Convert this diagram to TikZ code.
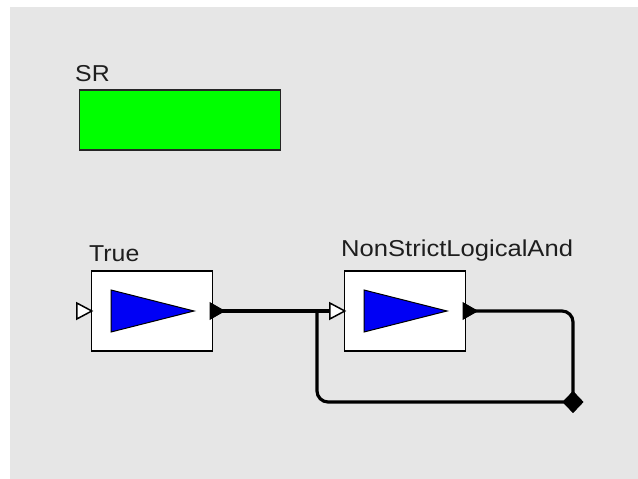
\documentclass[tikz,border=0pt]{standalone}
\usepackage{fontspec}
\setmainfont{Liberation Sans}[FakeStretch=1.08]
\usetikzlibrary{shapes.geometric,calc}
\definecolor{canvas}{RGB}{230,230,230}
\definecolor{labeltext}{RGB}{30,30,30}
\tikzset{
  block/.style={draw=black, line width=1.4pt, fill=white, minimum width=121pt, minimum height=80pt, inner sep=0pt},
  srblock/.style={draw=black!85, line width=1.5pt, fill={rgb,255:red,0;green,255;blue,0}, minimum width=201pt, minimum height=60pt, inner sep=0pt},
  caption/.style={anchor=base west, inner sep=0pt, text=labeltext, font=\fontsize{23}{27}\selectfont},
  gain/.style={draw=black, line width=1pt, fill={rgb,255:red,0;green,0;blue,245}},
  inport/.style={draw=black, line width=1.5pt, fill=white, line join=miter},
  outport/.style={draw=black, line width=1.2pt, fill=black},
  wire/.style={draw=black, line width=3.2pt, rounded corners=11pt},
  junction/.style={diamond, fill=black, inner sep=0pt, minimum width=21pt, minimum height=22pt}
}
\begin{document}
\begin{tikzpicture}[x=1pt, y=-1pt]
  \useasboundingbox (0,0) rectangle (638,479);
  \fill[white] (0,0) rectangle (638,479);
  \fill[canvas] (10,7) rectangle (638,479);

  % SR block
  \node[caption] (srlabel) at (75,81) {SR};
  \node[srblock] (sr) at (180,120) {};

  % True block
  \node[caption] (truelabel) at (89,261) {True};
  \node[block] (tb) at (152,311) {};
  \draw[gain] ([shift={(-41,-21)}]tb.center) -- ([shift={(42,0)}]tb.center) -- ([shift={(-41,21)}]tb.center) -- cycle;

  % NonStrictLogicalAnd block
  \node[caption] (andlabel) at (341,256) {\scalebox{1.03}[1]{NonStrictLogicalAnd}};
  \node[block] (ab) at (405,311) {};
  \draw[gain] ([shift={(-41,-21)}]ab.center) -- ([shift={(42,0)}]ab.center) -- ([shift={(-41,21)}]ab.center) -- cycle;

  % port positions
  \coordinate (tin)  at ([shift={(-14,0)}]tb.west);
  \coordinate (tout) at ([shift={(-3,0)}]tb.east);
  \coordinate (ain)  at ([shift={(-14,0)}]ab.west);
  \coordinate (aout) at ([shift={(-3,0)}]ab.east);

  % junction on the feedback loop
  \node[junction] (jn) at (573,402) {};
  \coordinate (bend) at (317,402);
  \coordinate (tap) at (317,311);

  % wires
  \draw[wire] (tout) -- (ain);
  \draw[wire] (aout) -- (jn.center |- aout) -- (jn.center);
  \draw[wire] (jn.center) -- (bend) -- (tap);
  \node[junction] at (jn.center) {};

  % ports drawn over the wires
  \draw[inport] ([shift={(0,-8)}]tin) -- ([shift={(15,0)}]tin) -- ([shift={(0,8)}]tin) -- cycle;
  \draw[inport] ([shift={(0,-8)}]ain) -- ([shift={(15,0)}]ain) -- ([shift={(0,8)}]ain) -- cycle;
  \draw[outport] ([shift={(0,-8)}]tout) -- ([shift={(14,0)}]tout) -- ([shift={(0,8)}]tout) -- cycle;
  \draw[outport] ([shift={(0,-8)}]aout) -- ([shift={(14,0)}]aout) -- ([shift={(0,8)}]aout) -- cycle;
\end{tikzpicture}
\end{document}
